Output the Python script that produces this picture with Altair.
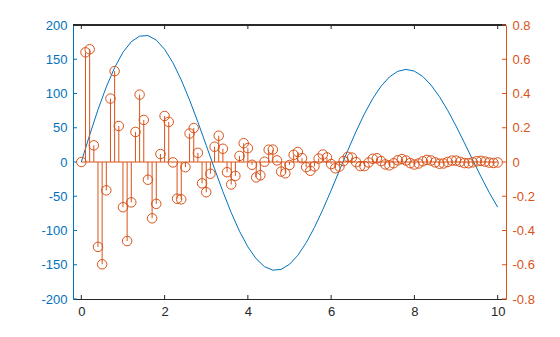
import altair as alt
import pandas as pd

# ---- data ----
line_x = [0.0, 0.2, 0.4, 0.6, 0.8, 1.0, 1.2, 1.4, 1.6, 1.8, 2.0, 2.2, 2.4, 2.6, 2.8, 3.0,
          3.2, 3.4, 3.6, 3.8, 4.0, 4.2, 4.4, 4.6, 4.8, 5.0, 5.2, 5.4, 5.6, 5.8, 6.0, 6.2,
          6.4, 6.6, 6.8, 7.0, 7.2, 7.4, 7.6, 7.8, 8.0, 8.2, 8.4, 8.6, 8.8, 9.0, 9.2, 9.4,
          9.6, 9.8, 10.0]
line_y = [0.0, 39.34, 76.34, 109.59, 137.85, 160.09, 175.55, 183.76, 184.54, 178.01,
          164.55, 144.86, 119.82, 90.53, 58.25, 24.29, -9.95, -43.12, -73.92, -101.20,
          -123.92, -141.30, -152.74, -157.90, -156.72, -149.36, -136.24, -117.98, -95.42,
          -69.53, -41.40, -12.19, 16.93, 44.79, 70.34, 92.59, 110.75, 124.15, 132.38,
          135.21, 132.64, 124.86, 112.30, 95.55, 75.34, 52.56, 28.14, 3.10, -21.57,
          -44.90, -65.99]

stem_x = [0.0, 0.1, 0.2, 0.3, 0.4, 0.5, 0.6, 0.7, 0.8, 0.9,
          1.0, 1.1, 1.2, 1.3, 1.4, 1.5, 1.6, 1.7, 1.8, 1.9,
          2.0, 2.1, 2.2, 2.3, 2.4, 2.5, 2.6, 2.7, 2.8, 2.9,
          3.0, 3.1, 3.2, 3.3, 3.4, 3.5, 3.6, 3.7, 3.8, 3.9,
          4.0, 4.1, 4.2, 4.3, 4.4, 4.5, 4.6, 4.7, 4.8, 4.9,
          5.0, 5.1, 5.2, 5.3, 5.4, 5.5, 5.6, 5.7, 5.8, 5.9,
          6.0, 6.1, 6.2, 6.3, 6.4, 6.5, 6.6, 6.7, 6.8, 6.9,
          7.0, 7.1, 7.2, 7.3, 7.4, 7.5, 7.6, 7.7, 7.8, 7.9,
          8.0, 8.1, 8.2, 8.3, 8.4, 8.5, 8.6, 8.7, 8.8, 8.9,
          9.0, 9.1, 9.2, 9.3, 9.4, 9.5, 9.6, 9.7, 9.8, 9.9, 10.0]
stem_y = [0.0, 0.6403, 0.6582, 0.0972, -0.4957, -0.5974, -0.1656, 0.3704, 0.5306, 0.2102,
          -0.2640, -0.4616, -0.2356, 0.1755, 0.3935, 0.2457, -0.1035, -0.3287, -0.2443, 0.0464,
          0.2687, 0.2342, -0.0024, -0.2144, -0.2182, -0.0303, 0.1663, 0.1983, 0.0534, -0.1245,
          -0.1764, -0.0686, 0.0891, 0.1536, 0.0773, -0.0595, -0.1312, -0.0810, 0.0355, 0.1097,
          0.0807, -0.0163, -0.0898, -0.0775, 0.0016, 0.0717, 0.0723, 0.0094, -0.0558, -0.0658,
          -0.0172, 0.0419, 0.0586, 0.0224, -0.0300, -0.0511, -0.0254, 0.0202, 0.0437, 0.0267,
          -0.0121, -0.0366, -0.0266, 0.0057, 0.0300, 0.0256, -0.0008, -0.0240, -0.0240, -0.0029,
          0.0187, 0.0219, 0.0055, -0.0141, -0.0195, -0.0073, 0.0101, 0.0170, 0.0083, -0.0068,
          -0.0146, -0.0088, 0.0042, 0.0122, 0.0088, -0.0020, -0.0100, -0.0085, 0.0003, 0.0080,
          0.0079, 0.0009, -0.0063, -0.0073, -0.0018, 0.0047, 0.0065, 0.0024, -0.0034, -0.0057,
          -0.0027]

x_ticks = [0, 2, 4, 6, 8, 10]
left_ticks = [-200, -150, -100, -50, 0, 50, 100, 150, 200]
right_ticks = [-0.8, -0.6, -0.4, -0.2, 0, 0.2, 0.4, 0.6, 0.8]
baseline_x = [0.0, 10.0]

# ---- styling ----
W, H = 433, 274
BLUE = "#0072BD"
ORANGE = "#D95319"
DARK = "#262626"
FONT = "Liberation Sans"
FS = 13
TK = 4
HYPHEN_LABEL = "datum.value < 0 ? '-' + format(-datum.value, '~g') : format(datum.value, '~g')"

line_df = pd.DataFrame({"x": line_x, "y": line_y})
stem_df = pd.DataFrame({"x": stem_x, "y": stem_y, "base": [0.0] * len(stem_x)})
xt_df = pd.DataFrame({"x": x_ticks})
lt_df = pd.DataFrame({"y": left_ticks})
rt_df = pd.DataFrame({"y": right_ticks})
bl_df = pd.DataFrame({"x": [baseline_x[0]], "x2": [baseline_x[1]], "y": [0.0]})

xs = alt.Scale(domain=[-0.2, 10.2], nice=False, zero=False)
yl = alt.Scale(domain=[-200, 200], nice=False, zero=False)
yr = alt.Scale(domain=[-0.8, 0.8], nice=False, zero=False)

def x_axis():
    return alt.Axis(values=x_ticks, title=None, orient="bottom", ticks=False,
                    labelPadding=6, labelColor=DARK, labelFont=FONT, labelFontSize=FS,
                    domainColor=DARK, domainWidth=1, grid=False, labelExpr=HYPHEN_LABEL)

def yl_axis():
    return alt.Axis(values=left_ticks, title=None, orient="left", ticks=False,
                    labelPadding=6, labelColor=BLUE, labelFont=FONT, labelFontSize=FS,
                    domainColor=BLUE, domainWidth=1, grid=False, labelExpr=HYPHEN_LABEL)

def yr_axis():
    return alt.Axis(values=right_ticks, title=None, orient="right", ticks=False,
                    labelPadding=6, labelColor=ORANGE, labelFont=FONT, labelFontSize=FS,
                    domainColor=ORANGE, domainWidth=1, grid=False, labelExpr=HYPHEN_LABEL)

# left layer: blue curve + frame pieces
blue_line = alt.Chart(line_df).mark_line(color=BLUE, strokeWidth=1).encode(
    x=alt.X("x:Q", scale=xs, axis=x_axis()),
    y=alt.Y("y:Q", scale=yl, axis=yl_axis()),
)
left_tick_marks = alt.Chart(lt_df).mark_rule(color=BLUE, strokeWidth=1).encode(
    y=alt.Y("y:Q", scale=yl, axis=yl_axis()),
    x=alt.value(0), x2=alt.value(TK),
)
bottom_ticks = alt.Chart(xt_df).mark_rule(color=DARK, strokeWidth=1).encode(
    x=alt.X("x:Q", scale=xs, axis=x_axis()),
    y=alt.value(H - TK), y2=alt.value(H),
)
top_ticks = alt.Chart(xt_df).mark_rule(color=DARK, strokeWidth=1).encode(
    x=alt.X("x:Q", scale=xs, axis=x_axis()),
    y=alt.value(0), y2=alt.value(TK),
)
top_line = alt.Chart(xt_df).mark_rule(color=DARK, strokeWidth=1).encode(
    x=alt.value(0), x2=alt.value(W), y=alt.value(0),
)
left = alt.layer(blue_line, left_tick_marks, bottom_ticks, top_ticks, top_line)

# right layer: orange stems
baseline = alt.Chart(bl_df).mark_rule(color=ORANGE, strokeWidth=1).encode(
    x=alt.X("x:Q", scale=xs, axis=None),
    x2="x2:Q",
    y=alt.Y("y:Q", scale=yr, axis=yr_axis()),
)
stems = alt.Chart(stem_df).mark_rule(color=ORANGE, strokeWidth=1).encode(
    x=alt.X("x:Q", scale=xs, axis=None),
    y=alt.Y("y:Q", scale=yr, axis=yr_axis()),
    y2="base:Q",
)
heads = alt.Chart(stem_df).mark_point(shape="circle", filled=False, color=ORANGE,
                                      size=90, strokeWidth=1, opacity=1).encode(
    x=alt.X("x:Q", scale=xs, axis=None),
    y=alt.Y("y:Q", scale=yr, axis=yr_axis()),
)
right_tick_marks = alt.Chart(rt_df).mark_rule(color=ORANGE, strokeWidth=1).encode(
    y=alt.Y("y:Q", scale=yr, axis=yr_axis()),
    x=alt.value(W - TK), x2=alt.value(W),
)
right = alt.layer(baseline, stems, heads, right_tick_marks)

chart = alt.layer(left, right).resolve_scale(
    x="independent", y="independent"
).properties(
    width=W, height=H,
    padding={"left": 73, "top": 25, "right": 54, "bottom": 38},
    autosize=alt.AutoSizeParams(type="none"),
    background="white",
).configure_view(stroke=None)

chart.save("out.html", embed_options={"renderer": "svg", "actions": False})
